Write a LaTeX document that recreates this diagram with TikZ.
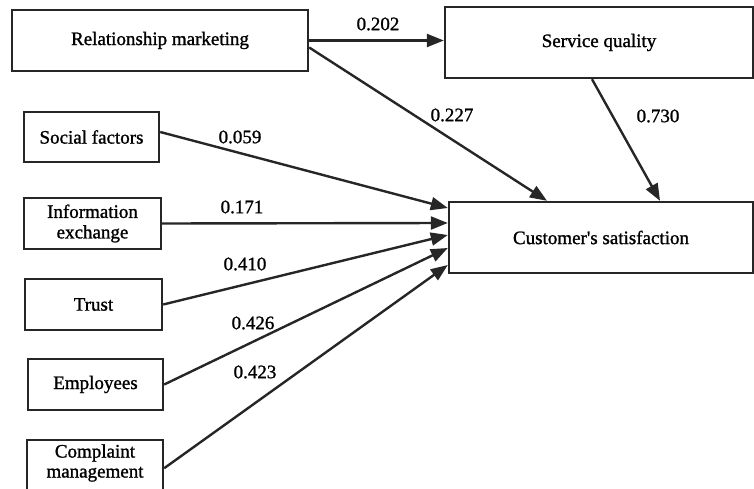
\documentclass[tikz,border=0pt]{standalone}
\usepackage{fontspec}
\setmainfont{Liberation Serif}[FakeBold=1.2]
\usetikzlibrary{arrows.meta}
\begin{document}
\begin{tikzpicture}[x=1pt,y=-1pt,
  box/.style={draw=black!85, line width=2.4pt, fill=white, inner sep=2pt, align=center,
    font=\fontsize{19}{20.5}\selectfont},
  lbl/.style={font=\fontsize{19}{20}\selectfont, inner sep=0pt},
  conn/.style={draw=black!85, line width=2.4pt, -{Triangle[length=17pt,width=13pt]}, shorten >=0pt}]
\useasboundingbox (0,0) rectangle (754,489);
% boxes
\node[box, minimum width=296pt, minimum height=61pt] (rm) at (160,40.5) {Relationship marketing};
\node[box, minimum width=308pt, minimum height=71pt] (sq) at (599,42.5) {Service quality};
\node[box, minimum width=304pt, minimum height=71pt] (cs) at (601,237.5) {Customer\textquotesingle s satisfaction};
\node[box, minimum width=135pt, minimum height=50pt] (sf) at (91.5,137) {Social factors};
\node[box, minimum width=137pt, minimum height=51pt] (ie) at (92.5,223.5) {Information\\exchange};
\node[box, minimum width=137pt, minimum height=51pt] (tr) at (93.5,304.5) {Trust};
\node[box, minimum width=135pt, minimum height=51pt] (em) at (95.5,384.5) {Employees};
\node[box, minimum width=136pt, minimum height=56pt, anchor=north] (cm) at (95,439) {};
\node[lbl, align=center] (cmt) at (95,463) {Complaint\\management};
% connectors
\draw[conn] (rm.east) -- (rm.east -| sq.west);
\draw[conn] ([yshift=-7pt]rm.east) -- ([xshift=-54pt]cs.north);
\draw[conn] ([xshift=-7pt]sq.south) -- ([xshift=59pt]cs.north);
\draw[conn] ([yshift=5pt]sf.east) -- ([yshift=29.5pt]cs.west);
\draw[conn] (ie.east) -- ([yshift=14.5pt]cs.west);
\draw[conn] (tr.east) -- ([yshift=2.5pt]cs.west);
\draw[conn] (em.east) -- ([yshift=-10.5pt]cs.west);
\draw[conn] (cm.east) -- ([yshift=-27.5pt]cs.west);
% coefficient labels
\node[lbl] (l1) at (378,24) {0.202};
\node[lbl] (l2) at (452,115) {0.227};
\node[lbl] (l3) at (658,116) {0.730};
\node[lbl] (l4) at (240,137) {0.059};
\node[lbl] (l5) at (242,207) {0.171};
\node[lbl] (l6) at (245,264) {0.410};
\node[lbl] (l7) at (253,323) {0.426};
\node[lbl] (l8) at (255,372) {0.423};
\end{tikzpicture}
\end{document}
